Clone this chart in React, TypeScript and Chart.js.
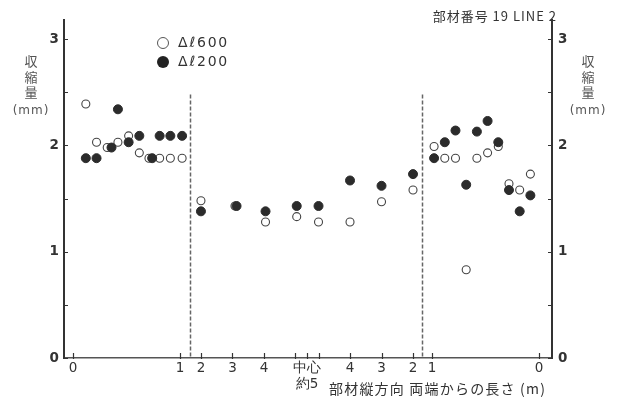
import React, { useEffect, useRef } from "react";
import { Chart, registerables } from "chart.js";

Chart.register(...registerables);

// ---------------- data (shrinkage, mm) ----------------
// left end section: distance from left end (m)
const leftOpenDist = [0.12, 0.22, 0.32, 0.42, 0.52, 0.62, 0.71, 0.81, 0.91, 1.02];
const leftOpen600 = [2.39, 2.03, 1.98, 2.03, 2.09, 1.93, 1.88, 1.88, 1.88, 1.88];
const leftFilledDist = [0.12, 0.22, 0.36, 0.42, 0.52, 0.62, 0.74, 0.81, 0.91, 1.02];
const leftFilled200 = [1.88, 1.88, 1.98, 2.34, 2.03, 2.09, 1.88, 2.09, 2.09, 2.09];

// middle section, left half: distance from left end (m)
const midLeftOpenDist = [2, 3.08, 4.05, 5.04];
const midLeftOpen600 = [1.48, 1.43, 1.28, 1.33];
const midLeftFilledDist = [2, 3.13, 4.05, 5.04];
const midLeftFilled200 = [1.38, 1.43, 1.38, 1.43];

// middle section, right half: distance from right end (m)
const midRightDist = [5, 4, 3, 2];
const midRightOpen600 = [1.28, 1.28, 1.47, 1.58];
const midRightFilled200 = [1.43, 1.67, 1.62, 1.73];

// right end section: distance from right end (m)
const rightDist = [0.98, 0.88, 0.78, 0.68, 0.58, 0.48, 0.38, 0.28, 0.18, 0.08];
const rightOpen600 = [1.99, 1.88, 1.88, 0.83, 1.88, 1.93, 1.99, 1.64, 1.58, 1.73];
const rightFilled200 = [1.88, 2.03, 2.14, 1.63, 2.13, 2.23, 2.03, 1.58, 1.38, 1.53];

const seriesLabels = ["Δℓ600", "Δℓ200"];
const yTicks = [0, 1, 2, 3];
const yMinorTicks = [0.5, 1.5, 2.5];
const xTickSections = ["L", "L", "ML", "ML", "ML", "ML", "C", "MR", "MR", "MR", "MR", "R", "R"];
const xTickDist = [0, 1, 2, 3, 4, 5, 0, 5, 4, 3, 2, 1, 0];
const xTickLabels: (string | string[])[] = ["0", "1", "2", "3", "4", "", ["中心", "約5"], "", "4", "3", "2", "1", "0"];
const breakDist = 1.09; // axis break (dashed line) distance from each end, m
const breakTop = 2.48;
const titleText = "部材番号 19 LINE 2";
const yTitleChars = ["収", "縮", "量", "(mm)"];
const xTitleText = "部材縦方向 両端からの長さ (m)";

// ---------------- broken x-axis transform ----------------
const MID_SCALE = 0.2944; // axis units per metre in compressed middle part
const MID_LEFT_2 = 1.196;
const MID_RIGHT_2 = 3.178;
const RIGHT_0 = 4.355;
const X_MIN = -0.084;
const X_MAX = 4.477;
const Y_MAX = 3.18;

function toU(sec: string, m: number): number {
  switch (sec) {
    case "L":
      return m;
    case "ML":
      return MID_LEFT_2 + (m - 2) * MID_SCALE;
    case "MR":
      return MID_RIGHT_2 - (m - 2) * MID_SCALE;
    case "R":
      return RIGHT_0 - m;
    default:
      return (toU("ML", 5) + toU("MR", 5)) / 2;
  }
}

const pts = (sec: string, d: number[], v: number[]) => d.map((m, i) => ({ x: toU(sec, m), y: v[i] }));

const openData = [
  ...pts("L", leftOpenDist, leftOpen600),
  ...pts("ML", midLeftOpenDist, midLeftOpen600),
  ...pts("MR", midRightDist, midRightOpen600),
  ...pts("R", rightDist, rightOpen600),
];
const filledData = [
  ...pts("L", leftFilledDist, leftFilled200),
  ...pts("ML", midLeftFilledDist, midLeftFilled200),
  ...pts("MR", midRightDist, midRightFilled200),
  ...pts("R", rightDist, rightFilled200),
];
const xTickU = xTickSections.map((s, i) => toU(s, xTickDist[i]));

const INK = "#333";
const NUM_FONT = '"DejaVu Sans", sans-serif';
const JP_FONT = '"Noto Sans CJK JP", sans-serif';

const decor = {
  id: "decor",
  beforeDatasetsDraw(chart: any) {
    const { ctx, scales } = chart;
    const x = scales.x;
    const y = scales.y;
    ctx.save();
    ctx.strokeStyle = "#666";
    ctx.lineWidth = 1.5;
    ctx.setLineDash([4, 2]);
    for (const sec of ["L", "R"]) {
      const px = Math.round(x.getPixelForValue(toU(sec, breakDist))) + 0.5;
      ctx.beginPath();
      ctx.moveTo(px, y.getPixelForValue(breakTop));
      ctx.lineTo(px, y.getPixelForValue(0));
      ctx.stroke();
    }
    ctx.restore();
  },
  afterDraw(chart: any) {
    const { ctx, chartArea, scales } = chart;
    const x = scales.x;
    const y = scales.y;
    ctx.save();
    // inward ticks
    ctx.strokeStyle = INK;
    ctx.lineWidth = 1.2;
    for (const u of xTickU) {
      const px = Math.round(x.getPixelForValue(u)) + 0.5;
      ctx.beginPath();
      ctx.moveTo(px, chartArea.bottom + 1);
      ctx.lineTo(px, chartArea.bottom - 5);
      ctx.stroke();
    }
    for (const v of [...yTicks, ...yMinorTicks]) {
      const py = Math.round(y.getPixelForValue(v)) + 0.5;
      ctx.beginPath();
      ctx.moveTo(chartArea.left, py);
      ctx.lineTo(chartArea.left + 4, py);
      ctx.moveTo(chartArea.right, py);
      ctx.lineTo(chartArea.right - 4, py);
      ctx.stroke();
    }
    // legend
    const lx = 163;
    const ly = [43, 62];
    ctx.setLineDash([]);
    ctx.lineWidth = 1;
    ctx.beginPath();
    ctx.arc(lx, ly[0], 5.5, 0, Math.PI * 2);
    ctx.fillStyle = "#fff";
    ctx.fill();
    ctx.strokeStyle = "#555";
    ctx.stroke();
    ctx.beginPath();
    ctx.arc(lx, ly[1], 6, 0, Math.PI * 2);
    ctx.fillStyle = "#222";
    ctx.fill();
    ctx.fillStyle = INK;
    ctx.font = `14px ${NUM_FONT}`;
    ctx.textBaseline = "middle";
    ctx.textAlign = "left";
    (ctx as any).letterSpacing = "1.8px";
    ctx.fillText(seriesLabels[0], 178, ly[0]);
    ctx.fillText(seriesLabels[1], 178, ly[1]);
    // title
    (ctx as any).letterSpacing = "1px";
    ctx.font = `13px ${JP_FONT}`;
    ctx.textAlign = "right";
    ctx.fillStyle = "#333";
    ctx.fillText(titleText, 557, 16);
    (ctx as any).letterSpacing = "0px";
    // vertical y titles
    ctx.textAlign = "center";
    ctx.fillStyle = "#555";
    const cy = [61, 77, 92, 111];
    for (const cx of [31, 588]) {
      yTitleChars.forEach((c, i) => {
        ctx.font = i < 3 ? `13px ${JP_FONT}` : `12px ${NUM_FONT}`;
        if (i === 3) (ctx as any).letterSpacing = "1px";
        ctx.fillText(c, cx, cy[i]);
        (ctx as any).letterSpacing = "0px";
      });
    }
    // x title
    (ctx as any).letterSpacing = "1.2px";
    ctx.font = `14px ${JP_FONT}`;
    ctx.textAlign = "left";
    ctx.fillStyle = INK;
    ctx.fillText(xTitleText, 329, 389);
    ctx.restore();
  },
};

export default function App() {
  const ref = useRef<HTMLCanvasElement | null>(null);
  useEffect(() => {
    document.body.style.margin = "0";
    const canvas = ref.current;
    if (!canvas) return;
    const chart = new Chart(canvas, {
      type: "scatter",
      data: {
        datasets: [
          {
            label: seriesLabels[1],
            data: filledData,
            pointStyle: "circle",
            pointRadius: 4.5,
            backgroundColor: "#2b2b2b",
            borderColor: "#2b2b2b",
            borderWidth: 1,
          },
          {
            label: seriesLabels[0],
            data: openData,
            pointStyle: "circle",
            pointRadius: 4,
            backgroundColor: "#ffffff",
            borderColor: "#444",
            borderWidth: 1.1,
          },
        ],
      },
      options: {
        responsive: false,
        animation: false,
        devicePixelRatio: 1,
        layout: { padding: { top: 20, left: 0, right: 0, bottom: 0 } },
        plugins: { legend: { display: false }, tooltip: { enabled: false } },
        scales: {
          x: {
            type: "linear",
            min: X_MIN,
            max: X_MAX,
            grid: { display: false, drawTicks: false, tickLength: 0 },
            border: { display: true, color: "#555", width: 1.5 },
            afterBuildTicks: (axis: any) => {
              axis.ticks = xTickU.map((v) => ({ value: v }));
            },
            afterFit: (s: any) => {
              s.height = 43;
            },
            ticks: {
              autoSkip: false,
              maxRotation: 0,
              padding: 3,
              color: INK,
              font: { family: NUM_FONT, size: 13.5, lineHeight: 1.15 },
              callback: (_v: any, i: number) => xTickLabels[i],
            },
          },
          y: {
            type: "linear",
            position: "left",
            min: 0,
            max: Y_MAX,
            grid: { display: false, drawTicks: false, tickLength: 0 },
            border: { display: true, color: "#333", width: 2 },
            afterBuildTicks: (axis: any) => {
              axis.ticks = yTicks.map((v) => ({ value: v }));
            },
            afterFit: (s: any) => {
              s.width = 64;
            },
            ticks: {
              padding: 5,
              color: INK,
              font: { family: NUM_FONT, size: 13.5, weight: "bold" },
            },
          },
          y2: {
            type: "linear",
            position: "right",
            min: 0,
            max: Y_MAX,
            grid: { display: false, drawTicks: false, tickLength: 0 },
            border: { display: true, color: "#333", width: 2 },
            afterBuildTicks: (axis: any) => {
              axis.ticks = yTicks.map((v) => ({ value: v }));
            },
            afterFit: (s: any) => {
              s.width = 67;
            },
            ticks: {
              padding: 6,
              color: INK,
              font: { family: NUM_FONT, size: 13.5, weight: "bold" },
            },
          },
        },
      },
      plugins: [decor],
    } as any);
    return () => chart.destroy();
  }, []);
  return (
    <div style={{ position: "absolute", left: 0, top: 0, width: 619, height: 401, background: "#fff" }}>
      <canvas ref={ref} width={619} height={401} />
    </div>
  );
}
